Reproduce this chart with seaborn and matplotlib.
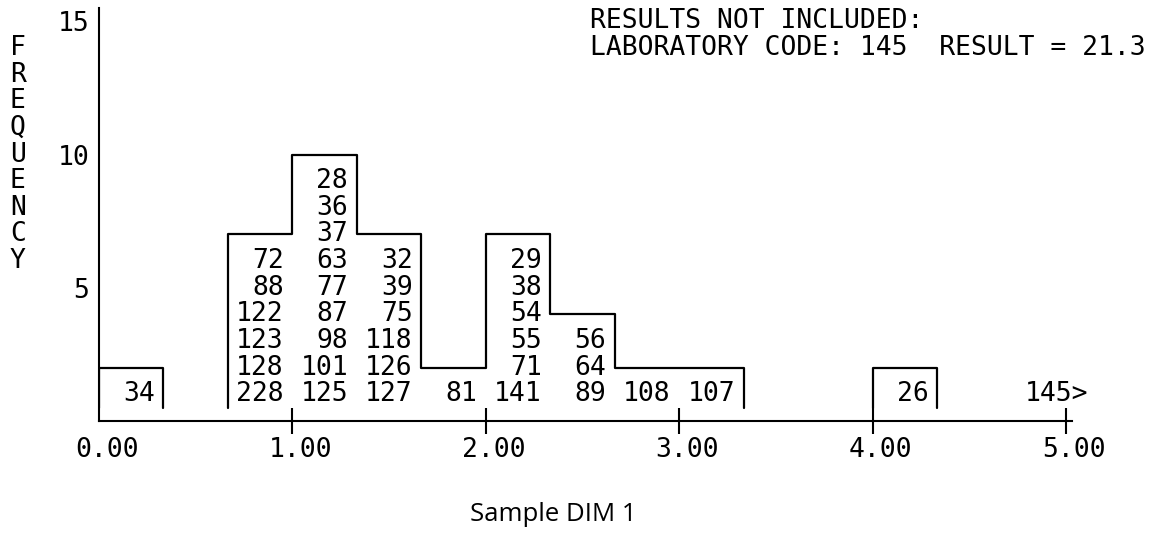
import numpy as np
import pandas as pd
import matplotlib
matplotlib.use("Agg")
import matplotlib.pyplot as plt
import matplotlib.transforms as mtransforms
import seaborn as sns

# ---------------- data ----------------
bin_width = 1 / 3
bin_index = [0, 2, 3, 4, 5, 6, 7, 8, 9, 12]          # bin number (left edge = index * width)
lab_codes = [
    [34],
    [72, 88, 122, 123, 128, 228],
    [28, 36, 37, 63, 77, 87, 98, 101, 125],
    [32, 39, 75, 118, 126, 127],
    [81],
    [29, 38, 54, 55, 71, 141],
    [56, 64, 89],
    [108],
    [107],
    [26],
]
x_ticks = [0, 1, 2, 3, 4, 5]
x_tick_labels = ["0.00", "1.00", "2.00", "3.00", "4.00", "5.00"]
y_ticks = [5, 10, 15]
y_tick_labels = ["5", "10", "15"]
excluded_codes = ["145"]
excluded_results = [21.3]
x_label = "Sample DIM 1"
y_label = "FREQUENCY"

# ---------------- style ----------------
sns.set_theme(style="white")
mono = "DejaVu Sans Mono"
plt.rcParams["font.family"] = [mono, "DejaVu Sans"]
fs = 19

W, H, DPI = 1163, 534, 100
fig = plt.figure(figsize=(W / DPI, H / DPI), dpi=DPI)
ax_left, ax_bottom = 99 / W, 113 / H
ax_w, ax_h = 973 / W, 413 / H
ax = fig.add_axes([ax_left, ax_bottom, ax_w, ax_h])

# ---------------- outline (step histogram) ----------------
counts = [len(c) for c in lab_codes]
heights = [c + 1 for c in counts]   # one text row per code plus a header row
base = 0.5
runs = []
for idx, h in zip(bin_index, heights):
    if runs and idx == runs[-1][-1][0] + 1:
        runs[-1].append((idx, h))
    else:
        runs.append([(idx, h)])
rows = []
for sid, run in enumerate(runs):
    pts = [(run[0][0] * bin_width, base)]
    for idx, h in run:
        l = idx * bin_width
        r = l + bin_width
        pts += [(l, h), (r, h)]
    pts.append((pts[-1][0], base))
    for x, y in pts:
        rows.append({"x": x, "y": y, "seg": sid})
df = pd.DataFrame(rows)
sns.lineplot(data=df, x="x", y="y", units="seg", estimator=None, sort=False,
             color="black", lw=1.6, ax=ax, legend=False)

# ---------------- stacked lab codes ----------------
for idx, codes in zip(bin_index, lab_codes):
    r = (idx + 1) * bin_width
    for k, code in enumerate(sorted(codes, reverse=True)):
        ax.text(r - 0.045, k + 1, str(code), ha="right", va="center",
                fontsize=fs, color="black")

# outliers beyond axis
for k, code in enumerate(excluded_codes):
    ax.text(x_ticks[-1] + 0.115, k + 1, f"{code}>", ha="right", va="center",
            fontsize=fs, color="black")

# header text
ax.text(2.54, 15, "RESULTS NOT INCLUDED:", ha="left", va="center", fontsize=fs, color="black")
for k, (code, res) in enumerate(zip(excluded_codes, excluded_results)):
    ax.text(2.54, 14 - k, f"LABORATORY CODE: {code}  RESULT = {res}", ha="left",
            va="center", fontsize=fs, color="black")

# vertical y label
for i, ch in enumerate(y_label):
    ax.text(-0.42, 14 - i, ch, ha="center", va="center", fontsize=fs, color="black")

# ---------------- axes ----------------
ax.set_xlim(0, 5.03)
ax.set_ylim(0, 15.5)
for s in ["top", "right"]:
    ax.spines[s].set_visible(False)
for s in ["left", "bottom"]:
    ax.spines[s].set_color("black")
    ax.spines[s].set_linewidth(1.5)

ax.set_xticks(x_ticks, x_tick_labels)
ax.tick_params(axis="x", direction="inout", length=19, width=1.5, color="black",
               pad=2, labelsize=fs, labelcolor="black", bottom=True)
ax.xaxis.get_major_ticks()[0].tick1line.set_visible(False)
offset = mtransforms.ScaledTranslation(8 / DPI, 0, fig.dpi_scale_trans)
for lab in ax.get_xticklabels():
    lab.set_transform(lab.get_transform() + offset)

ax.set_yticks(y_ticks, y_tick_labels)
ax.tick_params(axis="y", length=0, pad=7, labelsize=fs, labelcolor="black", left=False)

ax.set_xlabel(x_label, fontsize=18.5, family="Open Sans", color="black")
ax.xaxis.set_label_coords(2.35 / 5.03, -0.195)
ax.set_ylabel("")
ax.grid(False)

fig.savefig("out.png", dpi=DPI, facecolor="white")
